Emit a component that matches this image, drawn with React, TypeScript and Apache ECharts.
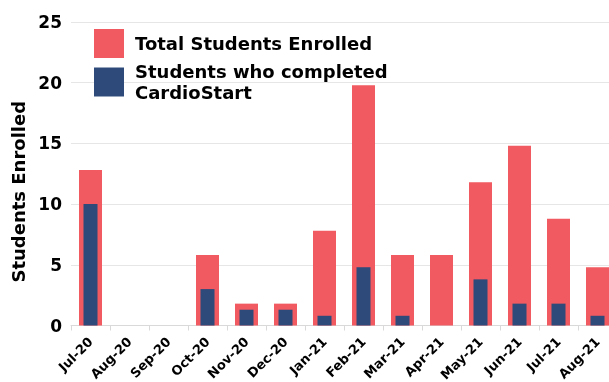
import React, { useEffect, useRef } from "react";
import * as echarts from "echarts";

const categories = ["Jul-20", "Aug-20", "Sep-20", "Oct-20", "Nov-20", "Dec-20", "Jan-21", "Feb-21", "Mar-21", "Apr-21", "May-21", "Jun-21", "Jul-21", "Aug-21"];
const totalEnrolled = [12.8, 0, 0, 5.8, 1.8, 1.8, 7.8, 19.8, 5.8, 5.8, 11.8, 14.8, 8.8, 4.8];
const completed = [10, 0, 0, 3, 1.3, 1.3, 0.8, 4.8, 0.8, 0, 3.8, 1.8, 1.8, 0.8];
const yTicks = { min: 0, max: 25, interval: 5 };

export default function App() {
  const ref = useRef<HTMLDivElement>(null);
  useEffect(() => {
    if (!ref.current) return;
    const chart = echarts.init(ref.current, null, { renderer: "svg" });
    const font = "DejaVu Sans, sans-serif";
    chart.setOption({
      animation: false,
      textStyle: { fontFamily: font },
      grid: { left: 71, right: -8, top: 22, bottom: 56.5, containLabel: false, outerBoundsMode: "none" },
      legend: {
        orient: "vertical",
        left: 94,
        top: 29,
        padding: 0,
        itemWidth: 30,
        itemHeight: 29,
        itemGap: 3,
        icon: "rect",
        selectedMode: false,
        textStyle: { fontSize: 18, fontWeight: "bold", color: "#000", fontFamily: font, lineHeight: 21, padding: [0, 0, 0, 6] },
        data: ["Total Students Enrolled", "Students who completed\nCardioStart"],
      },
      xAxis: [
        {
          type: "category",
          data: categories,
          boundaryGap: true,
          axisLine: { lineStyle: { color: "#d9d9d9" } },
          axisTick: { show: true, length: 5, lineStyle: { color: "#d9d9d9" } },
          axisLabel: { rotate: 45, fontSize: 13, fontWeight: "bold", color: "#000", fontFamily: font, margin: 14, interval: 0 },
        },
        {
          type: "category",
          data: categories,
          show: false,
          boundaryGap: true,
        },
      ],
      yAxis: {
        type: "value",
        min: yTicks.min,
        max: yTicks.max,
        interval: yTicks.interval,
        name: "Students Enrolled",
        nameLocation: "middle",
        nameGap: 44,
        nameTextStyle: { fontSize: 18, fontWeight: "bold", color: "#000", fontFamily: font, padding: [0, 36, 0, 0] },
        axisLine: { show: false },
        axisTick: { show: false },
        axisLabel: { fontSize: 17, fontWeight: "bold", color: "#000", fontFamily: font, margin: 9 },
        splitLine: { lineStyle: { color: "#e6e6e6" } },
      },
      series: [
        {
          name: "Total Students Enrolled",
          type: "bar",
          xAxisIndex: 0,
          data: totalEnrolled,
          barWidth: 23,
          itemStyle: { color: "#F05A60" },
        },
        {
          name: "Students who completed\nCardioStart",
          type: "bar",
          xAxisIndex: 1,
          data: completed,
          barWidth: 14,
          itemStyle: { color: "#2E4A7A" },
        },
      ],
    });
    return () => chart.dispose();
  }, []);
  return <div ref={ref} style={{ position: "fixed", left: 0, top: 0, width: 609, height: 382 }} />;
}
